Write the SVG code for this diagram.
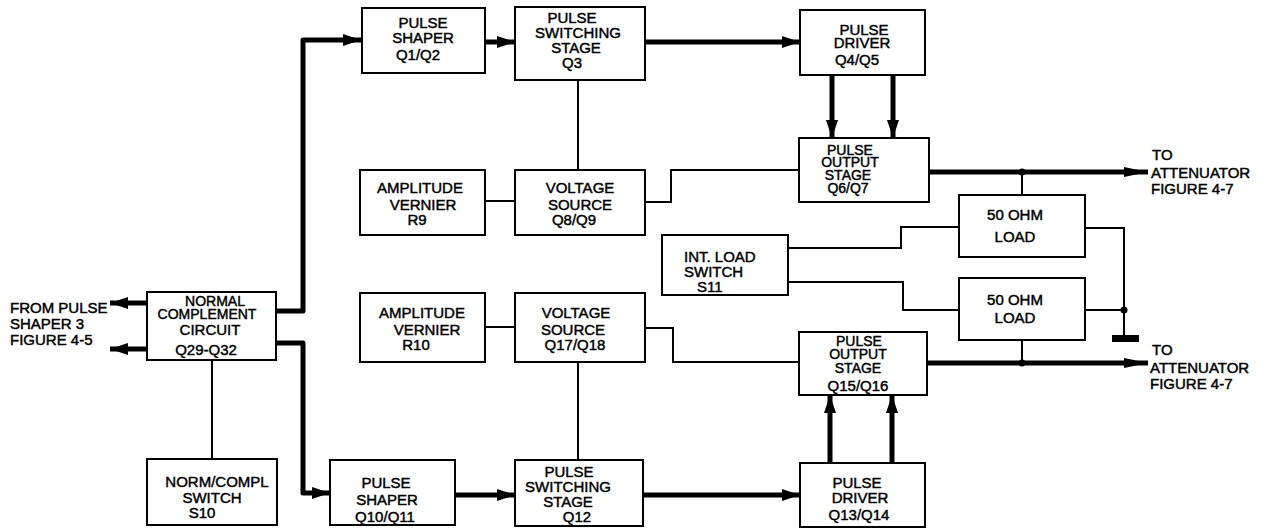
<svg xmlns="http://www.w3.org/2000/svg" width="1262" height="528" viewBox="0 0 1262 528">
<style>
.box{fill:#fff;stroke:#000;stroke-width:2}
.thin{fill:none;stroke:#000;stroke-width:2}
.thick{fill:none;stroke:#000;stroke-width:5;stroke-linejoin:round}
.t{font-family:"Liberation Sans",Arial,sans-serif;font-size:15px;fill:#000;stroke:#000;stroke-width:0.45;text-anchor:middle}
.s{font-size:14px}
.l{text-anchor:start}
</style>
<defs>
<marker id="ah" markerUnits="userSpaceOnUse" markerWidth="18" markerHeight="12" refX="18" refY="6" orient="auto">
<path d="M0,0 L18,6 L0,12 z" fill="#000"/>
</marker>
<marker id="ahl" markerUnits="userSpaceOnUse" markerWidth="24" markerHeight="12" refX="24" refY="6" orient="auto">
<path d="M0,1 L24,6 L0,11 z" fill="#000"/>
</marker>
</defs>
<rect width="1262" height="528" fill="#fff"/>

<g id="connectors">
<path class="thick" d="M147,303 H110" marker-end="url(#ah)"/>
<path class="thick" d="M147,349 H110" marker-end="url(#ah)"/>
<path class="thick" d="M276,311 H303 V40 H361" marker-end="url(#ah)"/>
<path class="thick" d="M276,343 H303 V493 H330" marker-end="url(#ah)"/>
<path class="thin" d="M212,360 V459"/>
<path class="thick" d="M485,42 H515" marker-end="url(#ah)"/>
<path class="thick" d="M645,42 H800" marker-end="url(#ah)"/>
<path class="thin" d="M578,80 V170"/>
<path class="thin" d="M485,201 H515"/>
<path class="thin" d="M645,202 H671 V170 H799"/>
<path class="thick" d="M832,75 V138" marker-end="url(#ah)"/>
<path class="thick" d="M893,75 V138" marker-end="url(#ah)"/>
<path class="thick" d="M929,172 H1148" marker-end="url(#ahl)"/>
<path class="thin" d="M1022,172 V195"/>
<circle cx="1022" cy="172" r="3.5"/>
<path class="thin" d="M959,227 H901 V248 H788"/>
<path class="thin" d="M788,282 H903 V310 H959"/>
<path class="thin" d="M1085,228 H1124 V336"/>
<path class="thin" d="M1085,310 H1124"/>
<circle cx="1124" cy="310" r="3.5"/>
<rect x="1112" y="335" width="27" height="7" fill="#000"/>
<path class="thin" d="M1022,340 V363"/>
<circle cx="1022" cy="363" r="3.5"/>
<path class="thin" d="M485,327 H515"/>
<path class="thin" d="M645,328 H673 V362 H799"/>
<path class="thin" d="M578,362 V460"/>
<path class="thick" d="M455,495 H515" marker-end="url(#ah)"/>
<path class="thick" d="M643,495 H800" marker-end="url(#ah)"/>
<path class="thick" d="M830,463 V395" marker-end="url(#ah)"/>
<path class="thick" d="M892,463 V395" marker-end="url(#ah)"/>
<path class="thick" d="M927,363 H1148" marker-end="url(#ahl)"/>
</g>

<g id="from-label">
<text class="t l" x="10" y="313">FROM PULSE</text>
<text class="t l" x="10" y="329">SHAPER 3</text>
<text class="t l" x="10" y="345">FIGURE 4-5</text>
</g>

<g id="ncc">
<rect class="box" x="147" y="292" width="129" height="68"/>
<text class="t s" x="215" y="306">NORMAL</text>
<text class="t s" x="207" y="319">COMPLEMENT</text>
<text class="t" x="210" y="335">CIRCUIT</text>
<text class="t" x="206" y="355">Q29-Q32</text>
</g>

<g id="norm-switch">
<rect class="box" x="147" y="459" width="130" height="66"/>
<text class="t" x="217" y="487">NORM/COMPL</text>
<text class="t" x="212" y="503">SWITCH</text>
<text class="t" x="202" y="518">S10</text>
</g>

<g id="shaper-upper">
<rect class="box" x="362" y="8" width="123" height="65"/>
<text class="t" x="423" y="28">PULSE</text>
<text class="t" x="423" y="43">SHAPER</text>
<text class="t" x="418" y="60">Q1/Q2</text>
</g>

<g id="switching-upper">
<rect class="box" x="515" y="7" width="130" height="73"/>
<text class="t" x="572" y="23">PULSE</text>
<text class="t" x="578" y="38">SWITCHING</text>
<text class="t" x="576" y="53">STAGE</text>
<text class="t" x="572" y="68">Q3</text>
</g>

<g id="driver-upper">
<rect class="box" x="800" y="10" width="125" height="65"/>
<text class="t" x="864" y="35">PULSE</text>
<text class="t" x="862" y="48">DRIVER</text>
<text class="t" x="857" y="65">Q4/Q5</text>
</g>

<g id="vernier-r9">
<rect class="box" x="360" y="170" width="125" height="65"/>
<text class="t" x="420" y="193">AMPLITUDE</text>
<text class="t" x="423" y="210">VERNIER</text>
<text class="t" x="417" y="225">R9</text>
</g>

<g id="vsource-upper">
<rect class="box" x="515" y="170" width="130" height="65"/>
<text class="t" x="580" y="193">VOLTAGE</text>
<text class="t" x="580" y="210">SOURCE</text>
<text class="t" x="574" y="225">Q8/Q9</text>
</g>

<g id="output-upper">
<rect class="box" x="799" y="138" width="130" height="64"/>
<text class="t s" x="850" y="155">PULSE</text>
<text class="t s" x="850" y="167">OUTPUT</text>
<text class="t s" x="848" y="180">STAGE</text>
<text class="t s" x="848" y="193">Q6/Q7</text>
</g>

<g id="to-att-upper">
<text class="t l" x="1152" y="160">TO</text>
<text class="t l" x="1151" y="178">ATTENUATOR</text>
<text class="t l" x="1151" y="194">FIGURE 4-7</text>
</g>

<g id="load-upper">
<rect class="box" x="959" y="195" width="126" height="62"/>
<text class="t" x="1015" y="220">50 OHM</text>
<text class="t" x="1015" y="242">LOAD</text>
</g>

<g id="int-load-switch">
<rect class="box" x="662" y="235" width="126" height="60"/>
<text class="t l" x="684" y="262">INT. LOAD</text>
<text class="t l" x="684" y="277">SWITCH</text>
<text class="t l" x="697" y="292">S11</text>
</g>

<g id="load-lower">
<rect class="box" x="959" y="278" width="126" height="62"/>
<text class="t" x="1015" y="305">50 OHM</text>
<text class="t" x="1015" y="323">LOAD</text>
</g>

<g id="vernier-r10">
<rect class="box" x="360" y="293" width="125" height="69"/>
<text class="t" x="422" y="318">AMPLITUDE</text>
<text class="t" x="427" y="335">VERNIER</text>
<text class="t" x="416" y="350">R10</text>
</g>

<g id="vsource-lower">
<rect class="box" x="515" y="293" width="130" height="69"/>
<text class="t" x="576" y="318">VOLTAGE</text>
<text class="t" x="573" y="335">SOURCE</text>
<text class="t" x="575" y="350">Q17/Q18</text>
</g>

<g id="output-lower">
<rect class="box" x="799" y="332" width="128" height="63"/>
<text class="t s" x="859" y="346">PULSE</text>
<text class="t s" x="858" y="359">OUTPUT</text>
<text class="t s" x="858" y="373">STAGE</text>
<text class="t" x="858" y="391">Q15/Q16</text>
</g>

<g id="to-att-lower">
<text class="t l" x="1152" y="355">TO</text>
<text class="t l" x="1150" y="373">ATTENUATOR</text>
<text class="t l" x="1150" y="389">FIGURE 4-7</text>
</g>

<g id="shaper-lower">
<rect class="box" x="330" y="460" width="125" height="65"/>
<text class="t" x="386" y="488">PULSE</text>
<text class="t" x="387" y="505">SHAPER</text>
<text class="t" x="385" y="522">Q10/Q11</text>
</g>

<g id="switching-lower">
<rect class="box" x="515" y="460" width="128" height="66"/>
<text class="t" x="569" y="477">PULSE</text>
<text class="t" x="568" y="492">SWITCHING</text>
<text class="t" x="568" y="507">STAGE</text>
<text class="t" x="577" y="522">Q12</text>
</g>

<g id="driver-lower">
<rect class="box" x="800" y="463" width="125" height="64"/>
<text class="t" x="857" y="488">PULSE</text>
<text class="t" x="860" y="503">DRIVER</text>
<text class="t" x="859" y="520">Q13/Q14</text>
</g>
</svg>
